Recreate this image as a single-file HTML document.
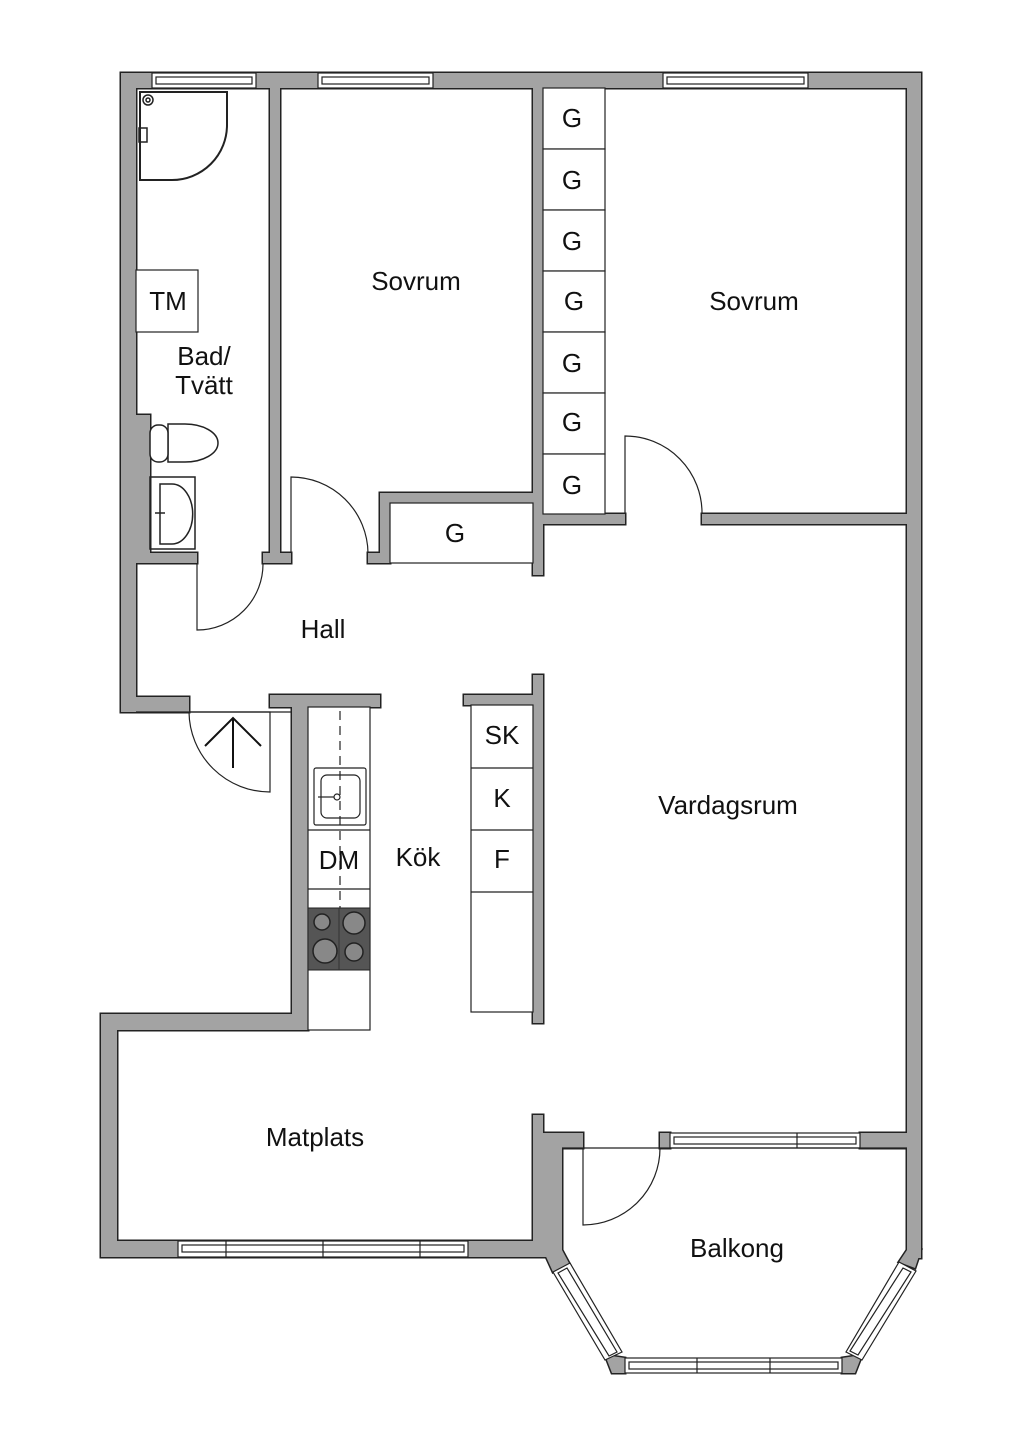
<!DOCTYPE html>
<html><head><meta charset="utf-8"><style>
html,body{margin:0;padding:0;background:#fff;}
svg{display:block;}
text{font-family:"Liberation Sans",sans-serif;font-size:26px;fill:#111;text-anchor:middle;}
</style></head><body>
<svg width="1024" height="1448" viewBox="0 0 1024 1448" xmlns="http://www.w3.org/2000/svg">
<defs>
<g id="walls">
  <rect x="121" y="73" width="800" height="15"/>
  <rect x="121" y="73" width="15" height="483"/>
  <rect x="136" y="415" width="14" height="141"/>
  <rect x="121" y="553" width="76" height="10"/>
  <rect x="121" y="562" width="15" height="150"/>
  <rect x="121" y="697" width="68" height="15"/>
  <rect x="270" y="88" width="10" height="475"/>
  <rect x="263" y="553" width="28" height="10"/>
  <rect x="368" y="553" width="22" height="10"/>
  <rect x="380" y="493" width="153" height="10"/>
  <rect x="380" y="493" width="10" height="70"/>
  <rect x="533" y="88" width="10" height="487"/>
  <rect x="543" y="514" width="82" height="10"/>
  <rect x="702" y="514" width="219" height="10"/>
  <rect x="907" y="73" width="14" height="1075"/>
  <rect x="270" y="695" width="110" height="12"/>
  <rect x="292" y="695" width="16" height="335"/>
  <rect x="101" y="1014" width="207" height="16"/>
  <rect x="101" y="1014" width="16" height="243"/>
  <rect x="101" y="1241" width="444" height="16"/>
  <rect x="533" y="675" width="10" height="348"/>
  <rect x="464" y="695" width="79" height="10"/>
  <rect x="533" y="1115" width="10" height="142"/>
  <rect x="533" y="1133" width="50" height="15"/>
  <rect x="543" y="1133" width="19" height="124"/>
  <rect x="660" y="1133" width="10" height="15"/>
  <rect x="860" y="1133" width="61" height="15"/>
  <rect x="907" y="1133" width="14" height="125"/>
  <polygon points="543,1250 562,1250 570,1265 553,1272"/>
  <polygon points="907,1250 921,1250 915,1268 899,1262"/>
  <polygon points="605,1355 625,1358 625,1373 612,1373"/>
  <polygon points="842,1358 862,1355 855,1373 842,1373"/>
</g>
</defs>
<g fill="none" stroke="#222" stroke-width="3"><use href="#walls"/></g>
<g fill="#a3a3a3" stroke="none"><use href="#walls"/></g>

<g fill="#fff" stroke="#222" stroke-width="1.2">
  <rect x="152" y="73" width="104" height="15"/><rect x="156" y="77" width="96" height="7"/>
  <rect x="318" y="73" width="115" height="15"/><rect x="322" y="77" width="107" height="7"/>
  <rect x="663" y="73" width="145" height="15"/><rect x="667" y="77" width="137" height="7"/>
  <rect x="178" y="1241" width="290" height="16"/><rect x="182" y="1245" width="282" height="7"/>
  <rect x="670" y="1133" width="190" height="15"/><rect x="674" y="1137" width="182" height="7"/>
  <rect x="625" y="1358" width="217" height="15"/><rect x="629" y="1362" width="209" height="7"/>
  <polygon points="553,1272 570,1263 622,1352 605,1360"/>
  <polygon points="558,1273 567,1268 617,1352 609,1356"/>
  <polygon points="899,1262 916,1271 862,1360 846,1352"/>
  <polygon points="903,1268 911,1272 858,1355 850,1351"/>
</g>
<g stroke="#222" stroke-width="1.2">
  <line x1="226" y1="1241" x2="226" y2="1257"/><line x1="323" y1="1241" x2="323" y2="1257"/><line x1="420" y1="1241" x2="420" y2="1257"/>
  <line x1="797" y1="1133" x2="797" y2="1148"/>
  <line x1="697" y1="1358" x2="697" y2="1373"/><line x1="770" y1="1358" x2="770" y2="1373"/>
</g>

<g fill="none" stroke="#222" stroke-width="1.2">
  <path d="M197,563 L197,630 A66,66 0 0 0 263,563"/>
  <path d="M291,553 L291,477 A77,77 0 0 1 368,553"/>
  <path d="M625,514 L625,436 A77,77 0 0 1 702,514"/>
  <path d="M189,712 L270,712 L270,792 A81,81 0 0 1 189,712"/>
  <path d="M583,1148 L583,1225 A77,77 0 0 0 660,1148"/>
  <line x1="562" y1="1148" x2="907" y2="1148"/>
  <line x1="136" y1="712" x2="292" y2="712"/>
</g>
<g fill="none" stroke="#111" stroke-width="2">
  <line x1="233" y1="718" x2="233" y2="768"/><polyline points="205,746 233,718 261,746"/>
</g>

<g fill="#fff" stroke="#222" stroke-width="1.2">
  <rect x="543" y="88" width="62" height="61"/><rect x="543" y="149" width="62" height="61"/>
  <rect x="543" y="210" width="62" height="61"/><rect x="543" y="271" width="62" height="61"/>
  <rect x="543" y="332" width="62" height="61"/><rect x="543" y="393" width="62" height="61"/>
  <rect x="543" y="454" width="62" height="60"/>
  <rect x="390" y="503" width="143" height="60"/>
  <rect x="136" y="270" width="62" height="62"/>
  <rect x="308" y="707" width="62" height="323"/>
  <rect x="471" y="705" width="62" height="307"/>
  <line x1="471" y1="768" x2="533" y2="768"/><line x1="471" y1="830" x2="533" y2="830"/><line x1="471" y1="892" x2="533" y2="892"/>
  <line x1="308" y1="830" x2="370" y2="830"/><line x1="308" y1="889" x2="370" y2="889"/>
</g>
<line x1="340" y1="711" x2="340" y2="908" stroke="#222" stroke-width="1.2" stroke-dasharray="9,6"/>
<g fill="none" stroke="#222" stroke-width="1.2">
  <rect x="314" y="768" width="52" height="57" rx="2"/><rect x="321" y="775" width="39" height="43" rx="6"/>
  <circle cx="337" cy="797" r="3"/><line x1="318" y1="797" x2="334" y2="797"/>
</g>
<rect x="308" y="908" width="62" height="62" fill="#555" stroke="#222"/>
<line x1="339" y1="908" x2="339" y2="970" stroke="#333"/>
<g fill="#888" stroke="#222" stroke-width="1.5">
  <circle cx="322" cy="922" r="8"/><circle cx="354" cy="923" r="11"/>
  <circle cx="325" cy="951" r="12"/><circle cx="354" cy="952" r="9"/>
</g>

<g fill="none" stroke="#222" stroke-width="1.5">
  <path d="M140,92 L227,92 L227,125 A55,55 0 0 1 172,180 L140,180 Z" stroke-width="2"/>
  <circle cx="148" cy="100" r="5"/><circle cx="148" cy="100" r="2"/>
  <rect x="139" y="128" width="8" height="14"/>
  <path d="M168,424 L185,424 A33,19 0 0 1 185,462 L168,462 Z" fill="#fff"/>
  <rect x="150" y="425" width="18" height="37" rx="8" fill="#fff"/>
  <rect x="150" y="477" width="45" height="72"/>
  <path d="M160,484 L172,484 A20,29 0 0 1 172,544 L160,544 Z"/>
  <line x1="155" y1="513" x2="165" y2="513"/>
</g>

<text x="416" y="290">Sovrum</text>
<text x="754" y="310">Sovrum</text>
<g>
  <text x="572" y="127">G</text><text x="572" y="189">G</text><text x="572" y="250">G</text>
  <text x="574" y="310">G</text><text x="572" y="372">G</text><text x="572" y="431">G</text>
  <text x="572" y="494">G</text><text x="455" y="542">G</text>
</g>
<text x="168" y="310">TM</text>
<text x="204" y="365">Bad/</text>
<text x="204" y="394">Tvätt</text>
<text x="323" y="638">Hall</text>
<text x="502" y="744">SK</text>
<text x="502" y="807">K</text>
<text x="502" y="868">F</text>
<text x="339" y="869">DM</text>
<text x="418" y="866">Kök</text>
<text x="728" y="814">Vardagsrum</text>
<text x="315" y="1146">Matplats</text>
<text x="737" y="1257">Balkong</text>
</svg>
</body></html>
